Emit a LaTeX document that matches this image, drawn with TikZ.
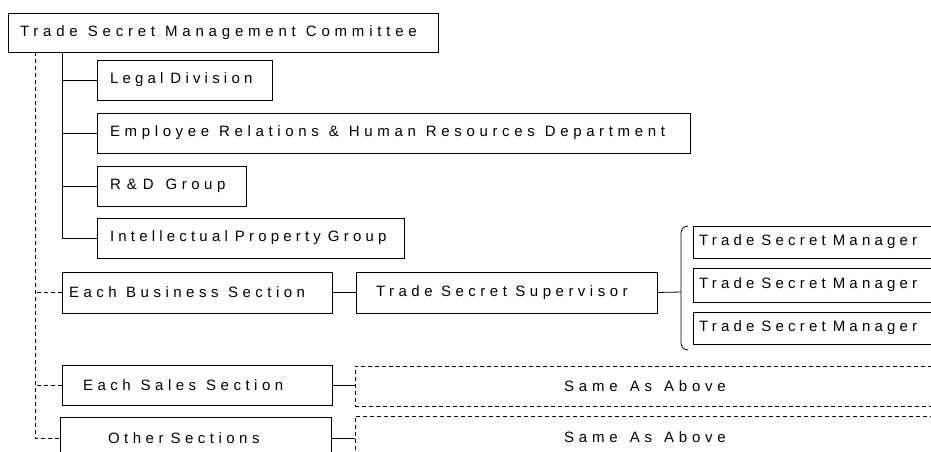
\documentclass[tikz,border=0pt]{standalone}
\usepackage{fontspec}
\setmainfont[LetterSpace=30]{Liberation Sans}
\newcommand{\ws}[1][9pt]{\hspace{#1}}
\begin{document}
\begin{tikzpicture}[x=1pt,y=-1pt,
  box/.style={draw=black, line width=0.8pt, rectangle, anchor=north west, outer sep=0pt,
    inner ysep=0pt, align=left, font=\fontsize{15}{18}\selectfont},
  ls/.style={font={\fontsize{15}{18}\selectfont\addfontfeatures{LetterSpace=#1}}},
  dbox/.style={box, dashed, dash pattern=on 4pt off 3pt, align=center},
  conn/.style={draw=black, line width=0.8pt},
  dconn/.style={conn, dash pattern=on 4pt off 3pt}]
\useasboundingbox (0,0) rectangle (931,452);
\clip (0,0) rectangle (931,452);
% top
\node[box, ls=32, minimum height=39pt, inner xsep=12pt, text width=406pt] (tsmc) at (8,13) {Trade\ws[10pt]Secret\ws[10pt]Management\ws[10pt]Committee};
\node[box, ls=28, minimum height=40pt, inner xsep=13pt, text width=149pt] (legal) at (97,60) {Legal\ws[7pt]Division};
\node[box, ls=31, minimum height=40pt, inner xsep=13pt, text width=567pt] (emp) at (97,113) {Employee\ws[10pt]Relations\ws[10pt]\&\ws[10pt]Human\ws[10pt]Resources\ws[10pt]Department};
\node[box, minimum height=40pt, inner xsep=13pt, text width=123pt] (rd) at (97,166) {R\ws[6pt]\&\ws[6pt]D\ws[12pt]Group};
\node[box, ls=28, minimum height=40pt, inner xsep=13pt, text width=281pt] (ip) at (97,218) {Intellectual\ws[7pt]Property\ws[7pt]Group};
% sections
\node[box, minimum height=41pt, inner xsep=7pt, text width=256pt] (ebs) at (62,272) {Each\ws[9.5pt]Business\ws[9.5pt]Section};
\node[box, minimum height=41pt, inner xsep=20pt, text width=261pt] (tss) at (356,272) {Trade\ws[8.5pt]Secret\ws[8.5pt]Supervisor};
\node[box, ls=28, minimum height=32pt, inner xsep=6pt, text width=248pt] (m1) at (693,226) {Trade\ws[7pt]Secret\ws[7pt]Manager};
\node[box, ls=28, minimum height=34pt, inner xsep=6pt, text width=248pt] (m2) at (693,268) {Trade\ws[7pt]Secret\ws[7pt]Manager};
\node[box, ls=28, minimum height=32pt, inner xsep=6pt, text width=248pt] (m3) at (693,312) {Trade\ws[7pt]Secret\ws[7pt]Manager};
\node[box, minimum height=40pt, inner xsep=21pt, text width=228pt] (ess) at (62,365) {Each\ws[10pt]Sales\ws[10pt]Section};
\node[box, minimum height=42pt, inner xsep=48pt, text width=175pt] (oth) at (60,417) {Other\ws[7pt]Sections};
\node[dbox, ls=32, minimum height=40pt, inner xsep=0pt, text width=580pt] (same1) at (355,366) {Same\ws[12pt]As\ws[12pt]Above};
\node[dbox, ls=32, minimum height=42pt, inner xsep=0pt, text width=580pt] (same2) at (355,416) {Same\ws[12pt]As\ws[12pt]Above};
% trunks
\coordinate (trunk) at (62,52);
\coordinate (dtrunk) at (35,52);
\coordinate (brace) at (681,292);
\draw[conn] (trunk) |- (ip.west);
\foreach \n in {legal,emp,rd} \draw[conn] (\n.west) -- (\n.west -| trunk);
\draw[dconn] (dtrunk) |- (oth.west);
\draw[dconn] (ebs.west) -- (ebs.west -| dtrunk);
\draw[dconn] (ess.west) -- (ess.west -| dtrunk);
\draw[conn] (ebs.east) -- (tss.west);
\draw[conn] (tss.east) -- (brace);
\draw[conn, rounded corners=7pt] (688,226) -- (681,226) -- (681,350) -- (688,350);
\draw[conn] (ess.east) -- (ess.east -| same1.west);
\draw[conn] (oth.east) -- (oth.east -| same2.west);
\end{tikzpicture}
\end{document}
